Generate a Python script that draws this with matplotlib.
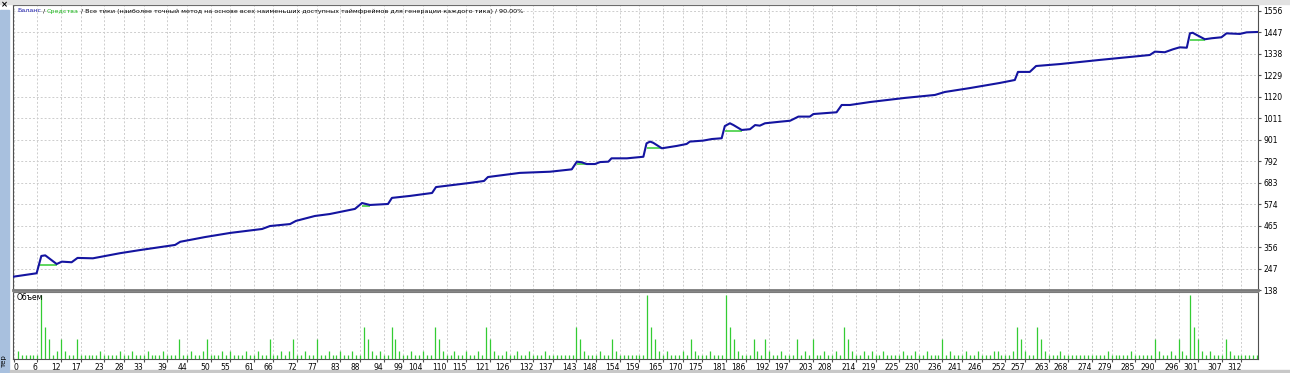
import matplotlib
matplotlib.use("Agg")
import matplotlib.pyplot as plt
from matplotlib import font_manager
from matplotlib.patches import Rectangle

W, H = 1290, 373

# balance curve knots (trade number, deposit)
bal_trade = [0, 5.8, 7.0, 8.0, 10.9, 12.2, 14.7, 16.2, 20.1, 27.0,
             32.1, 41.0, 42.3, 48.6, 55.0, 63.1, 65.1, 70.2, 71.7, 76.5,
             80.3, 86.7, 88.5, 90.5, 95.1, 96.1, 100.7, 106.3, 107.3, 115.9,
             119.5, 120.5, 128.6, 136.3, 141.8, 143.1, 144.3, 145.6, 147.7, 149.0,
             151.1, 151.9, 155.8, 160.0, 160.8, 161.7, 162.5, 164.7, 168.5, 171.0,
             171.8, 175.2, 177.4, 179.9, 180.7, 182.0, 182.9, 185.0, 187.1, 188.4,
             189.6, 190.9, 194.7, 197.3, 199.4, 202.3, 203.2, 209.1, 210.4, 212.5,
             217.6, 226.5, 234.1, 236.6, 243.0, 250.6, 254.4, 255.2, 258.2, 259.8,
             265.9, 276.0, 286.2, 288.7, 290.0, 292.5, 294.6, 296.3, 298.1, 298.9,
             299.6, 300.6, 302.7, 304.4, 306.9, 308.2, 311.6, 313.3, 316.2]
bal_value = [206, 223, 311, 314, 270, 282, 279, 301, 299, 325,
             341, 367, 383, 407, 428, 448, 463, 473, 489, 514,
             524, 550, 580, 570, 575, 606, 616, 631, 661, 682,
             692, 712, 733, 739, 751, 790, 787, 778, 778, 788,
             790, 807, 807, 815, 883, 892, 886, 858, 870, 880,
             892, 897, 905, 909, 971, 985, 976, 951, 955, 976,
             973, 985, 993, 998, 1019, 1019, 1032, 1041, 1078, 1078,
             1093, 1114, 1129, 1144, 1164, 1190, 1205, 1246, 1246, 1276,
             1286, 1307, 1327, 1332, 1349, 1346, 1361, 1371, 1369, 1442,
             1445, 1434, 1412, 1417, 1422, 1442, 1439, 1447, 1449]

# flat equity stretches visible under the balance bumps
eq_start = [6.5, 88.5, 143.1, 160.8, 180.7, 298.9]
eq_end = [10.9, 90.5, 145.6, 164.7, 185.0, 302.7]
eq_value = [265, 566, 777, 858, 947, 1408]

# volume per trade 1..316 (x0.01 lot)
volume = [2, 1, 1, 1, 1, 1, 16, 8, 5, 1,
          2, 5, 2, 1, 1, 5, 1, 1, 1, 1,
          1, 2, 1, 1, 1, 1, 2, 1, 1, 2,
          1, 1, 1, 2, 1, 1, 1, 2, 1, 1,
          1, 5, 1, 1, 2, 1, 1, 2, 5, 1,
          1, 1, 2, 1, 2, 1, 1, 1, 2, 1,
          1, 2, 1, 1, 5, 1, 1, 2, 1, 2,
          5, 1, 1, 2, 1, 1, 5, 1, 1, 2,
          1, 1, 2, 1, 1, 2, 1, 1, 8, 5,
          2, 1, 2, 1, 1, 8, 5, 2, 1, 1,
          2, 1, 1, 2, 1, 1, 8, 5, 2, 1,
          1, 2, 1, 1, 2, 1, 1, 2, 1, 8,
          5, 2, 1, 1, 2, 1, 1, 2, 1, 1,
          2, 1, 1, 1, 2, 1, 1, 1, 1, 1,
          1, 1, 8, 5, 2, 1, 1, 1, 2, 1,
          1, 5, 2, 1, 1, 1, 1, 1, 1, 1,
          16, 8, 5, 2, 1, 2, 1, 1, 1, 2,
          1, 5, 2, 1, 1, 1, 2, 1, 1, 1,
          16, 8, 5, 2, 1, 1, 1, 5, 2, 1,
          5, 2, 1, 1, 2, 1, 1, 1, 5, 1,
          2, 1, 5, 1, 1, 2, 1, 1, 2, 1,
          8, 5, 2, 1, 1, 2, 1, 2, 1, 1,
          2, 1, 1, 1, 1, 2, 1, 1, 2, 1,
          1, 2, 1, 1, 1, 5, 1, 2, 1, 1,
          1, 2, 1, 1, 2, 1, 1, 1, 2, 2,
          1, 1, 1, 2, 8, 5, 2, 1, 1, 8,
          5, 2, 1, 1, 1, 2, 1, 1, 1, 1,
          1, 1, 1, 1, 1, 1, 1, 2, 1, 1,
          1, 1, 1, 2, 1, 1, 1, 1, 1, 5,
          2, 1, 1, 2, 1, 5, 2, 1, 16, 8,
          5, 2, 1, 2, 1, 1, 1, 5, 2, 1,
          1, 1, 1, 1, 1, 1]
trades = list(range(1, len(volume) + 1))

y_ticks = [138, 247, 356, 465, 574, 683, 792, 901, 1011, 1120, 1229, 1338, 1447, 1556]
x_labels = [0, 6, 12, 17, 23, 28, 33, 39, 44, 50, 55, 61, 66, 72, 77, 83, 88, 94, 99,
            104, 110, 115, 121, 126, 132, 137, 143, 148, 154, 159, 165, 170, 175, 181,
            186, 192, 197, 203, 208, 214, 219, 225, 230, 236, 241, 246, 252, 257, 263,
            268, 274, 279, 285, 290, 296, 301, 307, 312]

title_parts = [("Баланс", "#2020b0"), (" / ", "black"), ("Средства", "#22bb22"),
               (" / Все тики (наиболее точный метод на основе всех наименьших доступных "
                "таймфреймов для генерации каждого тика) / 90.00%", "black")]

BLUE = "#1414a0"
GREEN = "#33cc33"
GRID = "#cdcdcd"
FRAME = "#505050"
FS = 5.5

# narrow face for the long header line if there is one
try:
    font_manager.findfont("Liberation Sans Narrow", fallback_to_default=False)
    TITLE_FONT = "Liberation Sans Narrow"
except Exception:
    TITLE_FONT = "DejaVu Sans"


def box(l, t, r, b):
    return [l / W, 1 - b / H, (r - l) / W, (b - t) / H]


fig = plt.figure(figsize=(W / 100, H / 100), dpi=100)
fig.patch.set_facecolor("white")

# window chrome
fig.patches.append(Rectangle((0, 1 - 4 / H), 1, 4 / H, transform=fig.transFigure,
                             color="#e2e2e2", zorder=0))
fig.patches.append(Rectangle((0, 0), 9 / W, 1 - 10 / H, transform=fig.transFigure,
                             color="#a8c0de", zorder=0))
fig.patches.append(Rectangle((10 / W, 0), 1, 3 / H, transform=fig.transFigure,
                             color="#c8c8c8", zorder=0))
fig.text(4 / W, 1 - 5 / H, "×", fontsize=6, fontweight="bold", ha="center", va="center")
fig.text(4 / W, 12 / H, "тер", fontsize=5, rotation=90, ha="center", va="center")

ax1 = fig.add_axes(box(13, 5, 1258, 290))
ax2 = fig.add_axes(box(13, 292, 1258, 359))

xmin, xmax = -0.2, 316.2

# main panel
ax1.hlines(eq_value, eq_start, eq_end, color=GREEN, lw=1.1, zorder=2)
ax1.plot(bal_trade, bal_value, color=BLUE, lw=1.5, zorder=3)
ax1.set_xlim(xmin, xmax)
ax1.set_ylim(138, 1586)
ax1.set_xticks(x_labels)
ax1.set_xticklabels([])
ax1.tick_params(axis="x", length=0)
ax1.yaxis.tick_right()
ax1.set_yticks(y_ticks)
ax1.set_yticklabels([str(v) for v in y_ticks])
ax1.tick_params(axis="y", length=2, pad=2, labelsize=FS, color=FRAME)
ax1.grid(True, color=GRID, ls=(0, (2, 2)), lw=0.7)
for s in ax1.spines.values():
    s.set_color(FRAME)
    s.set_linewidth(0.8)
ax1.spines["bottom"].set_color("#7a7a7a")
ax1.spines["bottom"].set_linewidth(2.0)

# volume panel
ax2.vlines(trades, 0, volume, color=GREEN, lw=0.9)
ax2.set_xlim(xmin, xmax)
ax2.set_ylim(0, 16.8)
ax2.set_yticks([])
ax2.set_xticks(x_labels)
ax2.set_xticklabels([str(v) for v in x_labels])
ax2.tick_params(axis="x", length=2, pad=1, labelsize=FS, color=FRAME)
for i, lab in enumerate(ax2.get_xticklabels()):
    lab.set_ha("left" if i == 0 else "right")
ax2.grid(True, axis="x", color=GRID, ls=(0, (2, 2)), lw=0.7)
for s in ax2.spines.values():
    s.set_color(FRAME)
    s.set_linewidth(0.8)
ax2.spines["top"].set_color("#7a7a7a")
ax2.text(4 / 1245, 1 - 5 / 67, "Объем", transform=ax2.transAxes, fontsize=FS,
         ha="left", va="center")

# title, coloured pieces laid end to end
renderer = fig.canvas.get_renderer()
full = "".join(p for p, _ in title_parts)
probe = fig.text(0, 0, full, fontsize=10, family=TITLE_FONT)
tsize = max(10 * 432 / probe.get_window_extent(renderer).width, 4.6)
probe.remove()
xpos = 17
for s, c in title_parts:
    t = fig.text(xpos / W, 1 - 11 / H, s, color=c, fontsize=tsize, family=TITLE_FONT,
                 ha="left", va="center")
    xpos += t.get_window_extent(renderer).width

fig.savefig("out.png", dpi=100)
